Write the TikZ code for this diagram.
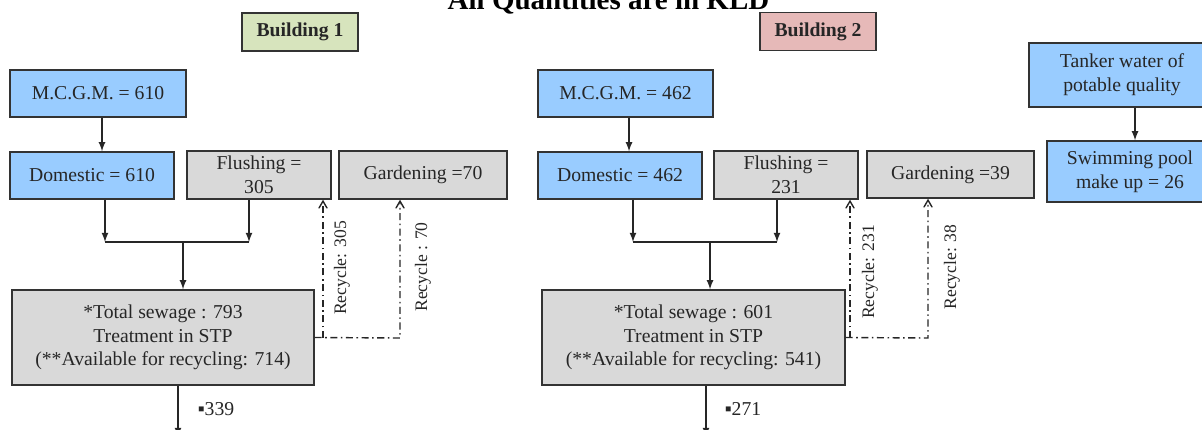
\documentclass[tikz,border=0pt]{standalone}
\usepackage{fontspec}
\setmainfont{Liberation Serif}
\usetikzlibrary{shapes,arrows}
\definecolor{supplyblue}{RGB}{153,204,255}
\definecolor{usegrey}{RGB}{217,217,217}
\definecolor{tagone}{RGB}{215,228,189}
\definecolor{tagtwo}{RGB}{230,185,184}

\begin{document}
\begin{tikzpicture}[x=0.02cm, y=-0.02cm,
	supply/.style={
		rectangle,
		draw=black!80,
		line width=0.8pt,
		fill=supplyblue,
		inner sep=2pt,
		align=center,
		text=black!85,
		font=\fontsize{11.2}{13.5}\selectfont},
	usage/.style={
		supply,
		fill=usegrey},
	tag/.style={
		supply,
		minimum width=2.32cm,
		minimum height=0.76cm,
		font=\bfseries\fontsize{11.2}{13.5}\selectfont},
	lbl/.style={
		inner sep=1pt,
		text=black!85,
		font=\fontsize{10}{12}\selectfont},
	line/.style={
	draw,
	line width=0.8pt,
	black!85},
	recycle/.style={
	line,
	dash pattern=on 4pt off 2pt on 0.9pt off 2pt,
	-angle 60}]

    \clip (0,0) rectangle (1202,429);
    % Place nodes
    \node [anchor=base, font=\bfseries\fontsize{16.5}{20}\selectfont] (title) at (608.5,10) {All Quantities are in KLD};
    \node [tag, fill=tagone] (bldone) at (300,32) {Building 1};
    \node [tag, fill=tagtwo] (bldtwo) at (818,31.5) {Building 2};
    \node [supply, minimum width=3.52cm, minimum height=0.94cm] (mcgmone) at (98,93.5) {M.C.G.M. = 610};
    \node [supply, minimum width=3.28cm, minimum height=0.94cm] (domone) at (92,175.5) {Domestic = 610};
    \node [usage, minimum width=2.88cm, minimum height=0.96cm] (flushone) at (259,175) {Flushing =\\305};
    \node [usage, minimum width=3.36cm, minimum height=0.96cm] (gardone) at (423,175) {Gardening =70};
    \node [usage, minimum width=6.04cm, minimum height=1.9cm] (stpone) at (163,337.5) {*Total sewage : 793\\Treatment in STP\\(**Available for recycling: 714)};
    \node [supply, minimum width=3.5cm, minimum height=0.94cm] (mcgmtwo) at (625.5,93.5) {M.C.G.M. = 462};
    \node [supply, minimum width=3.28cm, minimum height=0.94cm] (domtwo) at (620,175.5) {Domestic = 462};
    \node [usage, minimum width=2.88cm, minimum height=0.96cm] (flushtwo) at (786,175) {Flushing =\\231};
    \node [usage, minimum width=3.34cm, minimum height=0.94cm] (gardtwo) at (950.5,174.5) {Gardening =39};
    \node [usage, minimum width=6.06cm, minimum height=1.9cm] (stptwo) at (693.5,337.5) {*Total sewage : 601\\Treatment in STP\\(**Available for recycling: 541)};
    \node [supply, minimum width=3.72cm, minimum height=1.28cm] (tanker) at (1122,75) {Tanker water of\\potable quality};
    \node [supply, minimum width=3.32cm, minimum height=1.22cm] (pool) at (1130,171.5) {Swimming pool\\make up = 26};
    % Recycle labels
    \node [lbl, rotate=90] (recflushone) at (342,268) {Recycle: 305};
    \node [lbl, rotate=90] (recgardone) at (423,267) {Recycle : 70};
    \node [lbl, rotate=90] (recflushtwo) at (870,272) {Recycle: 231};
    \node [lbl, rotate=90] (recgardtwo) at (952,267) {Recycle: 38};
    \node [lbl, font=\fontsize{11.2}{13.5}\selectfont] (outone) at (216,409) {▪339};
    \node [lbl, font=\fontsize{11.2}{13.5}\selectfont] (outtwo) at (743,409) {▪271};
    % Junctions
    \coordinate (mxone) at (102,0);
    \coordinate (mxtwo) at (629,0);
    \coordinate (tx) at (1135,0);
    \coordinate (jdone) at (105,242);
    \coordinate (jfone) at (249,242);
    \coordinate (jmone) at (183,242);
    \coordinate (jdtwo) at (633,242);
    \coordinate (jftwo) at (777,242);
    \coordinate (jmtwo) at (710,242);
    \coordinate (rfone) at (323,338);
    \coordinate (rgone) at (400,338);
    \coordinate (rftwo) at (850,338);
    \coordinate (rgtwo) at (928,338);
    \coordinate (sinkone) at (178,437);
    \coordinate (sinktwo) at (706,437);
    % Draw edges
    \path [line,-latex] (mcgmone.south -| mxone) -- (domone.north -| mxone);
    \path [line,-latex] (domone.south -| jdone) -- (jdone);
    \path [line,-latex] (flushone.south -| jfone) -- (jfone);
    \path [line] (jdone) -- (jfone);
    \path [line,-latex] (jmone) -- (stpone.north -| jmone);
    \path [line,-latex] (stpone.south -| sinkone) -- (sinkone);
    \path [recycle] (stpone.east) -- (rgone) -- (gardone.south -| rgone);
    \path [recycle] (rfone) -- (flushone.south -| rfone);
    \path [line,-latex] (mcgmtwo.south -| mxtwo) -- (domtwo.north -| mxtwo);
    \path [line,-latex] (domtwo.south -| jdtwo) -- (jdtwo);
    \path [line,-latex] (flushtwo.south -| jftwo) -- (jftwo);
    \path [line] (jdtwo) -- (jftwo);
    \path [line,-latex] (jmtwo) -- (stptwo.north -| jmtwo);
    \path [line,-latex] (stptwo.south -| sinktwo) -- (sinktwo);
    \path [recycle] (stptwo.east) -- (rgtwo) -- (gardtwo.south -| rgtwo);
    \path [recycle] (rftwo) -- (flushtwo.south -| rftwo);
    \path [line,-latex] (tanker.south -| tx) -- (pool.north -| tx);
\end{tikzpicture}
\end{document}
